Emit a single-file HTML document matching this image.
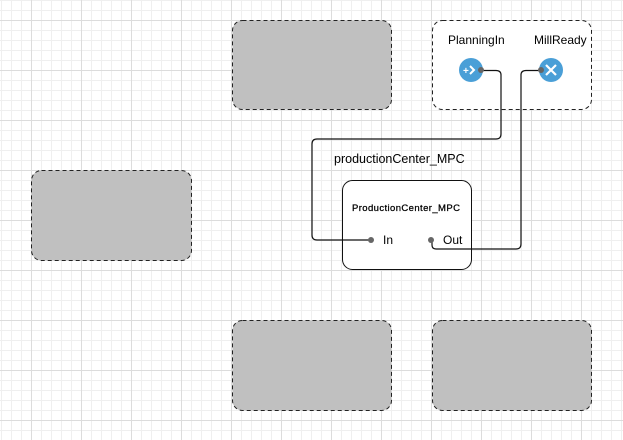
<!DOCTYPE html>
<html><head><style>
body{margin:0;width:623px;height:440px;overflow:hidden;background:#fff;
background-image:
linear-gradient(90deg,#dcdcdc 1px,transparent 1px),
linear-gradient(#dcdcdc 1px,transparent 1px),
linear-gradient(90deg,#efefef 1px,transparent 1px),
linear-gradient(#efefef 1px,transparent 1px);
background-size:50px 50px,50px 50px,10px 10px,10px 10px;
background-position:31px 0,0 20px,1px 0,0 0;}
svg{position:absolute;left:0;top:0}
text{font-family:"Liberation Sans",sans-serif;fill:#000}
</style></head><body>
<svg width="623" height="440">
<g stroke="#222" stroke-width="1" stroke-dasharray="4,3">
<rect x="232.5" y="20.5" width="159" height="89" rx="10" fill="#c0c0c0"/>
<rect x="31.5" y="170.5" width="160" height="90" rx="10" fill="#c0c0c0"/>
<rect x="232.5" y="320.5" width="159" height="90" rx="10" fill="#c0c0c0"/>
<rect x="432.5" y="320.5" width="159" height="90" rx="10" fill="#c0c0c0"/>
<rect x="432.5" y="20.5" width="159" height="89" rx="10" fill="#fff"/>
</g>
<rect x="342.5" y="180.5" width="129" height="89" rx="10" fill="#fff" stroke="#111"/>
<g fill="none" stroke="#111" stroke-width="1.2">
<path d="M481 70.5 H496 Q501 70.5 501 75 V134 Q501 139 496 139 H317 Q312 139 312 144 V235 Q312 240 317 240 H371"/>
<path d="M541 70.5 H526 Q521 70.5 521 75 V244 Q521 249 516 249 H436 Q432 249 432 245 V240"/>
</g>
<circle cx="471" cy="70" r="12" fill="#4a9fd7"/>
<circle cx="551" cy="70" r="12" fill="#4a9fd7"/>
<text x="463" y="74" font-size="10" font-weight="bold" style="fill:#fff">+</text>
<path d="M470 66 L474 70 L470 74" stroke="#fff" stroke-width="2" fill="none"/>
<path d="M546 65 L556 75 M556 65 L546 75" stroke="#fff" stroke-width="2.2"/>
<g fill="#666"><circle cx="481" cy="70" r="3"/><circle cx="541" cy="70" r="3"/><circle cx="371" cy="240" r="3"/><circle cx="431" cy="240" r="3"/></g>
<text x="448" y="44" font-size="12">PlanningIn</text>
<text x="534" y="44" font-size="12">MillReady</text>
<text x="334" y="163" font-size="12.5">productionCenter_MPC</text>
<text x="352" y="211" font-size="9.5" letter-spacing="0.4" stroke="#000" stroke-width="0.25">ProductionCenter_MPC</text>
<text x="383" y="244" font-size="12">In</text>
<text x="443" y="244" font-size="12">Out</text>
</svg>
</body></html>
